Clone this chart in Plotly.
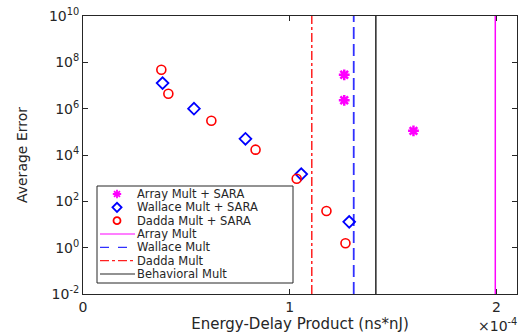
import plotly.graph_objects as go

# ---------------- data ----------------
array_sara_x = [1.264e-4, 1.264e-4, 1.599e-4]
array_sara_y = [2.9e7, 2.3e6, 1.1e5]

wallace_sara_x = [0.385e-4, 0.537e-4, 0.786e-4, 1.056e-4, 1.288e-4]
wallace_sara_y = [1.27e7, 1.0e6, 5.0e4, 1.5e3, 13]

dadda_sara_x = [0.379e-4, 0.413e-4, 0.621e-4, 0.835e-4, 1.034e-4, 1.178e-4, 1.27e-4]
dadda_sara_y = [4.8e7, 4.4e6, 3.0e5, 1.7e4, 950, 38, 1.55]

array_mult_x = 1.995e-4
wallace_mult_x = 1.31e-4
dadda_mult_x = 1.107e-4
behavioral_mult_x = 1.417e-4

x_tickvals = [0, 1e-4, 2e-4]
x_ticktext = ["0", "1", "2"]
y_exponents = [-2, 0, 2, 4, 6, 8, 10]
y_tickvals = [10.0 ** e for e in y_exponents]
y_ticktext = ["10<sup>%d</sup>" % e for e in y_exponents]

legend_labels = ["Array Mult + SARA", "Wallace Mult + SARA", "Dadda Mult + SARA",
                 "Array Mult", "Wallace Mult", "Dadda Mult", "Behavioral Mult"]

X_RANGE = [0, 2.1e-4]
Y_MIN, Y_MAX = 1e-2, 1e10

# ---------------- layout geometry ----------------
W, H = 520, 336
L, R, T, B = 83, 3, 16, 42
PW, PH = W - L - R, H - T - B

def px(x):
    return (x - L) / PW

def py(y):
    return (H - B - y) / PH

FONT = "DejaVu Sans"
AX = "#262626"
MAG = "#ff00ff"
BLU = "#0000ff"
RED = "#ff0000"

fig = go.Figure()

# vertical reference lines
lines = [
    (array_mult_x, MAG, "solid", 1.5),
    (wallace_mult_x, "#3030ff", "12px,5px", 1.8),
    (dadda_mult_x, "#ff2020", "dashdot", 1.5),
    (behavioral_mult_x, AX, "solid", 1.5),
]
for xv, col, dash, w in lines:
    fig.add_trace(go.Scatter(x=[xv, xv], y=[Y_MIN, Y_MAX], mode="lines",
                             line=dict(color=col, dash=dash, width=w),
                             showlegend=False, hoverinfo="skip"))

# markers
fig.add_trace(go.Scatter(x=array_sara_x, y=array_sara_y, mode="markers",
                         marker=dict(symbol="asterisk-open", size=9, color=MAG,
                                     line=dict(color=MAG, width=2.5)),
                         showlegend=False))
fig.add_trace(go.Scatter(x=wallace_sara_x, y=wallace_sara_y, mode="markers",
                         marker=dict(symbol="diamond-open", size=9, color=BLU,
                                     line=dict(color=BLU, width=1.8)),
                         showlegend=False))
fig.add_trace(go.Scatter(x=dadda_sara_x, y=dadda_sara_y, mode="markers",
                         marker=dict(symbol="circle-open", size=9, color=RED,
                                     line=dict(color=RED, width=1.6)),
                         showlegend=False))

# ---------------- custom legend ----------------
box_x0, box_x1, box_y0, box_y1 = 97, 293, 186, 283
row_y = [194 + i * 13.33 for i in range(7)]
sym_x = 117
line_x0, line_x1 = 100, 135
text_x = 138

shapes = [dict(type="rect", xref="paper", yref="paper",
               x0=px(box_x0), x1=px(box_x1), y0=py(box_y1), y1=py(box_y0),
               line=dict(color=AX, width=1), fillcolor="white", layer="below")]

# legend marker symbols on overlay axes in paper-like space
sym_colors = [MAG, BLU, RED]
fig.add_trace(go.Scatter(x=[px(sym_x)] * 3, y=[py(v) for v in row_y[:3]],
                         xaxis="x2", yaxis="y2", mode="markers",
                         marker=dict(symbol=["asterisk-open", "diamond-open", "circle-open"],
                                     size=7, color=sym_colors,
                                     line=dict(color=sym_colors, width=1.8)),
                         showlegend=False, hoverinfo="skip"))

for (xv, col, dash, w), yy in zip(lines, row_y[3:]):
    shapes.append(dict(type="line", xref="paper", yref="paper",
                       x0=px(line_x0), x1=px(line_x1), y0=py(yy), y1=py(yy),
                       line=dict(color=col, dash=dash if dash != "12px,5px" else "dash",
                                 width=1.2), layer="above"))

annotations = []
for lab, yy in zip(legend_labels, row_y):
    annotations.append(dict(xref="paper", yref="paper", x=px(text_x), y=py(yy),
                            text=lab, showarrow=False, xanchor="left", yanchor="middle",
                            xshift=-2, borderpad=0,
                            font=dict(family=FONT, size=11.5, color=AX)))

annotations.append(dict(xref="paper", yref="paper", x=1.0, y=py(325),
                        text="×10<sup>-4</sup>", showarrow=False,
                        xanchor="right", yanchor="middle", xshift=2,
                        font=dict(family=FONT, size=14, color=AX)))

fig.update_layout(
    width=W, height=H,
    margin=dict(l=L, r=R, t=T, b=B),
    paper_bgcolor="white", plot_bgcolor="white",
    font=dict(family=FONT, size=14, color=AX),
    shapes=shapes, annotations=annotations,
    showlegend=False,
    xaxis=dict(range=X_RANGE, tickvals=x_tickvals, ticktext=x_ticktext,
               showgrid=False, zeroline=False, showline=True, linecolor=AX,
               linewidth=1, mirror="ticks", ticks="inside", ticklen=5,
               tickcolor=AX, tickfont=dict(size=14),
               title=dict(text="Energy-Delay Product (ns*nJ)",
                          font=dict(size=15, color=AX), standoff=0)),
    yaxis=dict(type="log", range=[-2, 10], tickvals=y_tickvals, ticktext=y_ticktext,
               showgrid=False, zeroline=False, showline=True, linecolor=AX,
               linewidth=1, mirror="ticks", ticks="inside", ticklen=5,
               tickcolor=AX, tickfont=dict(size=14),
               title=dict(text="Average Error", font=dict(size=14, color=AX),
                          standoff=18)),
    xaxis2=dict(overlaying="x", range=[0, 1], visible=False, fixedrange=True),
    yaxis2=dict(overlaying="y", range=[0, 1], visible=False, fixedrange=True),
)

fig.write_html("out.html", config={"displayModeBar": False},
               post_script="document.body.style.margin='0';document.body.style.overflow='hidden';")
